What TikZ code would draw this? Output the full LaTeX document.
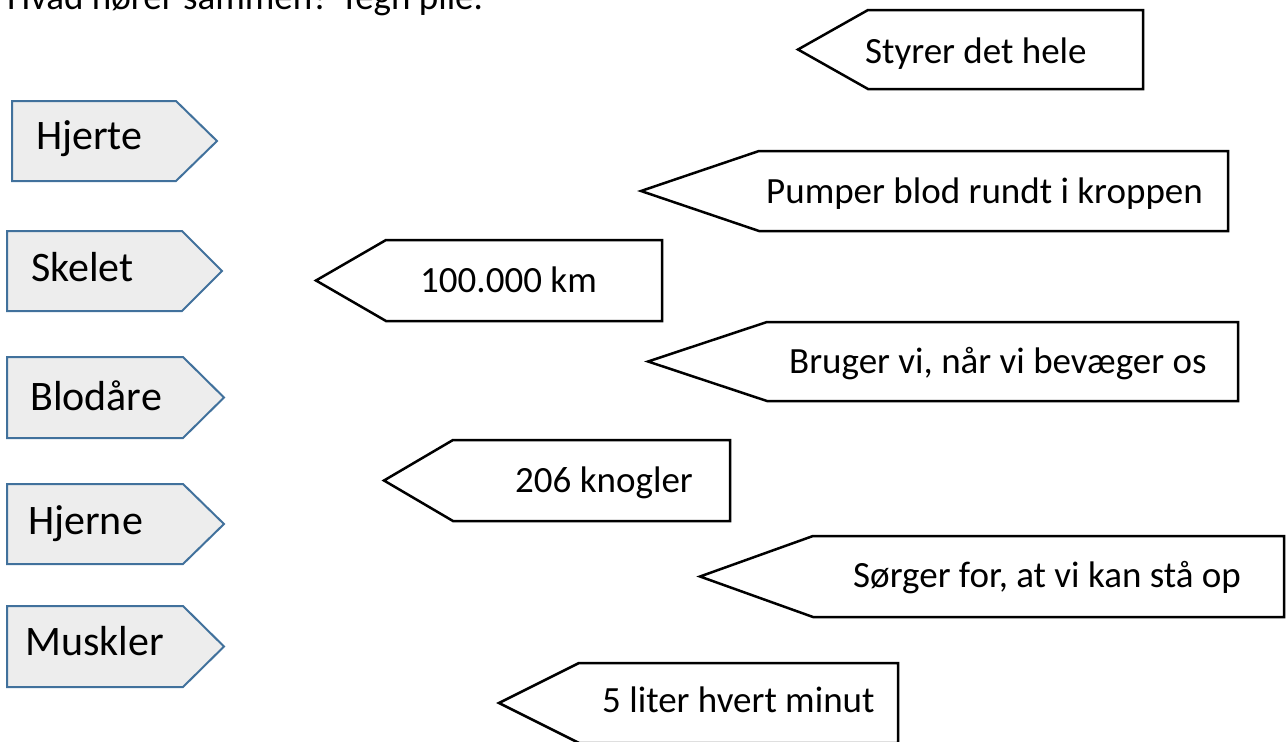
\documentclass[tikz,border=0pt]{standalone}
\usepackage{fontspec}
\setmainfont{Carlito}
\usepackage{tikz}

\definecolor{organblue}{HTML}{41719C}
\definecolor{organgray}{HTML}{EDEDED}

\begin{document}
\begin{tikzpicture}[x=1pt, y=-1pt,
    organbox/.style={draw=organblue, line width=2pt, fill=organgray, line join=miter},
    factbox/.style={draw=black, line width=2.5pt, fill=white, line join=miter},
    organtext/.style={anchor=base west, inner sep=0pt, font=\fontsize{42}{50}\selectfont},
    facttext/.style={anchor=base west, inner sep=0pt, font=\fontsize{37}{44}\selectfont}
]
    \useasboundingbox (0,0) rectangle (1286,742);

    % Title (cut at the top)
    \node[facttext] (title) at (7,9) {Hvad hører sammen? Tegn pile.};

    % Organs
    \draw[organbox] (12,101) -- (176,101) -- (217,141) -- (176,181) -- (12,181) -- cycle;
    \node[organtext] (hjerte) at (36,149) {Hjerte};

    \draw[organbox] (7,231) -- (182,231) -- (222,271) -- (182,311) -- (7,311) -- cycle;
    \node[organtext] (skelet) at (31,281) {Skelet};

    \draw[organbox] (7,357) -- (183,357) -- (224,397.5) -- (183,438) -- (7,438) -- cycle;
    \node[organtext] (blodaare) at (30,410) {Blodåre};

    \draw[organbox] (7,484) -- (183,484) -- (224,524) -- (183,564) -- (7,564) -- cycle;
    \node[organtext] (hjerne) at (28,534) {Hjerne};

    \draw[organbox] (7,606) -- (183,606) -- (224,646.5) -- (183,687) -- (7,687) -- cycle;
    \node[organtext] (muskler) at (25,655) {Muskler};

    % Facts
    \draw[factbox] (798,49.5) -- (868,10) -- (1143,10) -- (1143,89) -- (868,89) -- cycle;
    \node[facttext] (styrer) at (865,63) {Styrer det hele};

    \draw[factbox] (641,191) -- (759,151) -- (1228,151) -- (1228,231) -- (759,231) -- cycle;
    \node[facttext] (pumper) at (766,203) {Pumper blod rundt i kroppen};

    \draw[factbox] (316,280.5) -- (386,240) -- (662,240) -- (662,321) -- (386,321) -- cycle;
    \node[facttext] (km) at (420,292) {100.000 km};

    \draw[factbox] (648,361.5) -- (767,322) -- (1238,322) -- (1238,401) -- (767,401) -- cycle;
    \node[facttext] (bruger) at (789,373) {Bruger vi, når vi bevæger os};

    \draw[factbox] (384,480.5) -- (453,440) -- (730,440) -- (730,521) -- (453,521) -- cycle;
    \node[facttext] (knogler) at (515,492) {206 knogler};

    \draw[factbox] (700,576.5) -- (813,536) -- (1284,536) -- (1284,617) -- (813,617) -- cycle;
    \node[facttext] (soerger) at (853,587) {Sørger for, at vi kan stå op};

    \draw[factbox] (499,703) -- (579,663) -- (898,663) -- (898,743) -- (579,743) -- cycle;
    \node[facttext] (liter) at (602,712) {5 liter hvert minut};

\end{tikzpicture}
\end{document}
